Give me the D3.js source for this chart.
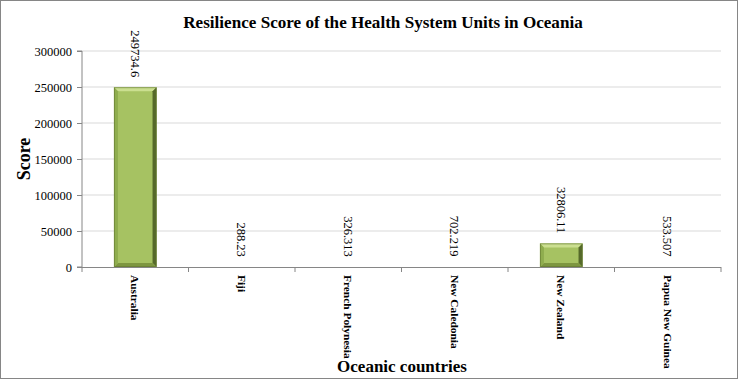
<!DOCTYPE html>
<html><head><meta charset="utf-8">
<script src="https://cdn.jsdelivr.net/npm/d3@7"></script>
<style>html,body{margin:0;padding:0;background:#fff;}svg{display:block;} text{font-family:"Liberation Serif","Times New Roman",serif;}</style>
</head><body>
<svg id="chart" width="738" height="379"></svg>
<script>
const categories = ["Australia","Fiji","French Polynesia","New Caledonia","New Zealand","Papua New Guinea"];
const values = [249734.6, 288.23, 326.313, 702.219, 32806.11, 533.507];
const valueLabels = ["249734.6","288.23","326.313","702.219","32806.11","533.507"];
const yTicks = [0,50000,100000,150000,200000,250000,300000];

const FONT = '"Liberation Serif", "Times New Roman", serif';
const svg = d3.select("#chart");
const W = 738, H = 379;
const m = {left:82, right:17, top:51, bottom:112};
const x = d3.scaleBand().domain(categories).range([m.left, W - m.right]).paddingInner(0.6).paddingOuter(0.3);
const xb = d3.scaleBand().domain(categories).range([m.left, W - m.right]);
const y = d3.scaleLinear().domain([0,300000]).range([H - m.bottom, m.top]);

svg.append("rect").attr("x",0.5).attr("y",0.5).attr("width",W-1).attr("height",H-1)
  .attr("fill","#fff").attr("stroke","#868686");

// gridlines
svg.append("g").selectAll("line").data(yTicks.slice(1)).join("line")
  .attr("x1",m.left).attr("x2",W-m.right).attr("y1",d=>y(d)).attr("y2",d=>y(d))
  .attr("stroke","#d9d9d9").attr("stroke-width",1);

// title
svg.append("text").attr("x",383).attr("y",28).attr("text-anchor","middle")
  .style("font-family",FONT).attr("font-weight","bold")
  .attr("font-size",17.1).attr("fill","#000").text("Resilience Score of the Health System Units in Oceania");

// y axis
const yAxis = svg.append("g").attr("transform",`translate(${m.left},0)`)
  .call(d3.axisLeft(y).tickValues(yTicks).tickSize(5).tickPadding(5).tickFormat(d3.format("d")));
yAxis.attr("font-family",null);
yAxis.selectAll("text").style("font-family",FONT).attr("font-size",12.5).attr("fill","#000");
yAxis.selectAll("line").attr("stroke","#868686");
yAxis.select(".domain").attr("stroke","#868686").attr("d",`M-5,${y(0)}H0V${y(300000)}H-5`);

// x axis
const xAxisG = svg.append("g").attr("transform",`translate(0,${y(0)})`);
xAxisG.append("line").attr("x1",m.left).attr("x2",W-m.right).attr("y1",0.5).attr("y2",0.5).attr("stroke","#868686");
const bounds = categories.map(c=>xb(c)).concat([W-m.right]);
xAxisG.selectAll("line.t").data(bounds).join("line").attr("class","t")
  .attr("x1",d=>d).attr("x2",d=>d).attr("y1",0).attr("y2",5).attr("stroke","#868686");
xAxisG.selectAll("text").data(categories).join("text")
  .attr("transform",d=>`translate(${xb(d)+xb.bandwidth()/2},8) rotate(90)`)
  .attr("dy","0.35em").attr("text-anchor","start")
  .style("font-family",FONT).attr("font-weight","bold")
  .attr("font-size",11.4).attr("fill","#000").text(d=>d);

// bars with bevel
const bev = 4;
const barG = svg.append("g");
categories.forEach((c,i)=>{
  const x0 = x(c), x1 = x(c)+x.bandwidth(), yt = y(values[i]), yb = y(0);
  const h = yb - yt;
  if (h < 1) return;
  const g = barG.append("g");
  const b = Math.min(bev, h/2);
  g.append("rect").attr("x",x0).attr("y",yt).attr("width",x1-x0).attr("height",h).attr("fill","#a6c262");
  g.append("polygon").attr("points",`${x0},${yt} ${x1},${yt} ${x1-b},${yt+b} ${x0+b},${yt+b}`).attr("fill","#cbdf90");
  g.append("polygon").attr("points",`${x1},${yt} ${x1},${yb} ${x1-b},${yb-b} ${x1-b},${yt+b}`).attr("fill","#55692a");
  g.append("polygon").attr("points",`${x0},${yb} ${x1},${yb} ${x1-b},${yb-b} ${x0+b},${yb-b}`).attr("fill","#7d9640");
  g.append("polygon").attr("points",`${x0},${yt} ${x0+b},${yt+b} ${x0+b},${yb-b} ${x0},${yb}`).attr("fill","#8fad4e");
  g.append("rect").attr("x",x0+0.5).attr("y",yt+0.5).attr("width",x1-x0-1).attr("height",h-1)
    .attr("fill","none").attr("stroke","#5f7530").attr("stroke-width",1).attr("stroke-opacity",0.6);
});

// value labels
svg.append("g").selectAll("text").data(categories).join("text")
  .attr("transform",(d,i)=>`translate(${xb(d)+xb.bandwidth()/2},${y(values[i])-10}) rotate(90)`)
  .attr("dy","0.35em").attr("text-anchor","end")
  .style("font-family",FONT)
  .attr("font-size",12.5).attr("fill","#000").text((d,i)=>valueLabels[i]);

// axis titles
svg.append("text").attr("transform","translate(30,159) rotate(-90)").attr("text-anchor","middle")
  .style("font-family",FONT).attr("font-weight","bold")
  .attr("font-size",18).attr("fill","#000").text("Score");
svg.append("text").attr("x",402).attr("y",372).attr("text-anchor","middle")
  .style("font-family",FONT).attr("font-weight","bold")
  .attr("font-size",17).attr("fill","#000").text("Oceanic countries");
</script>
</body></html>
